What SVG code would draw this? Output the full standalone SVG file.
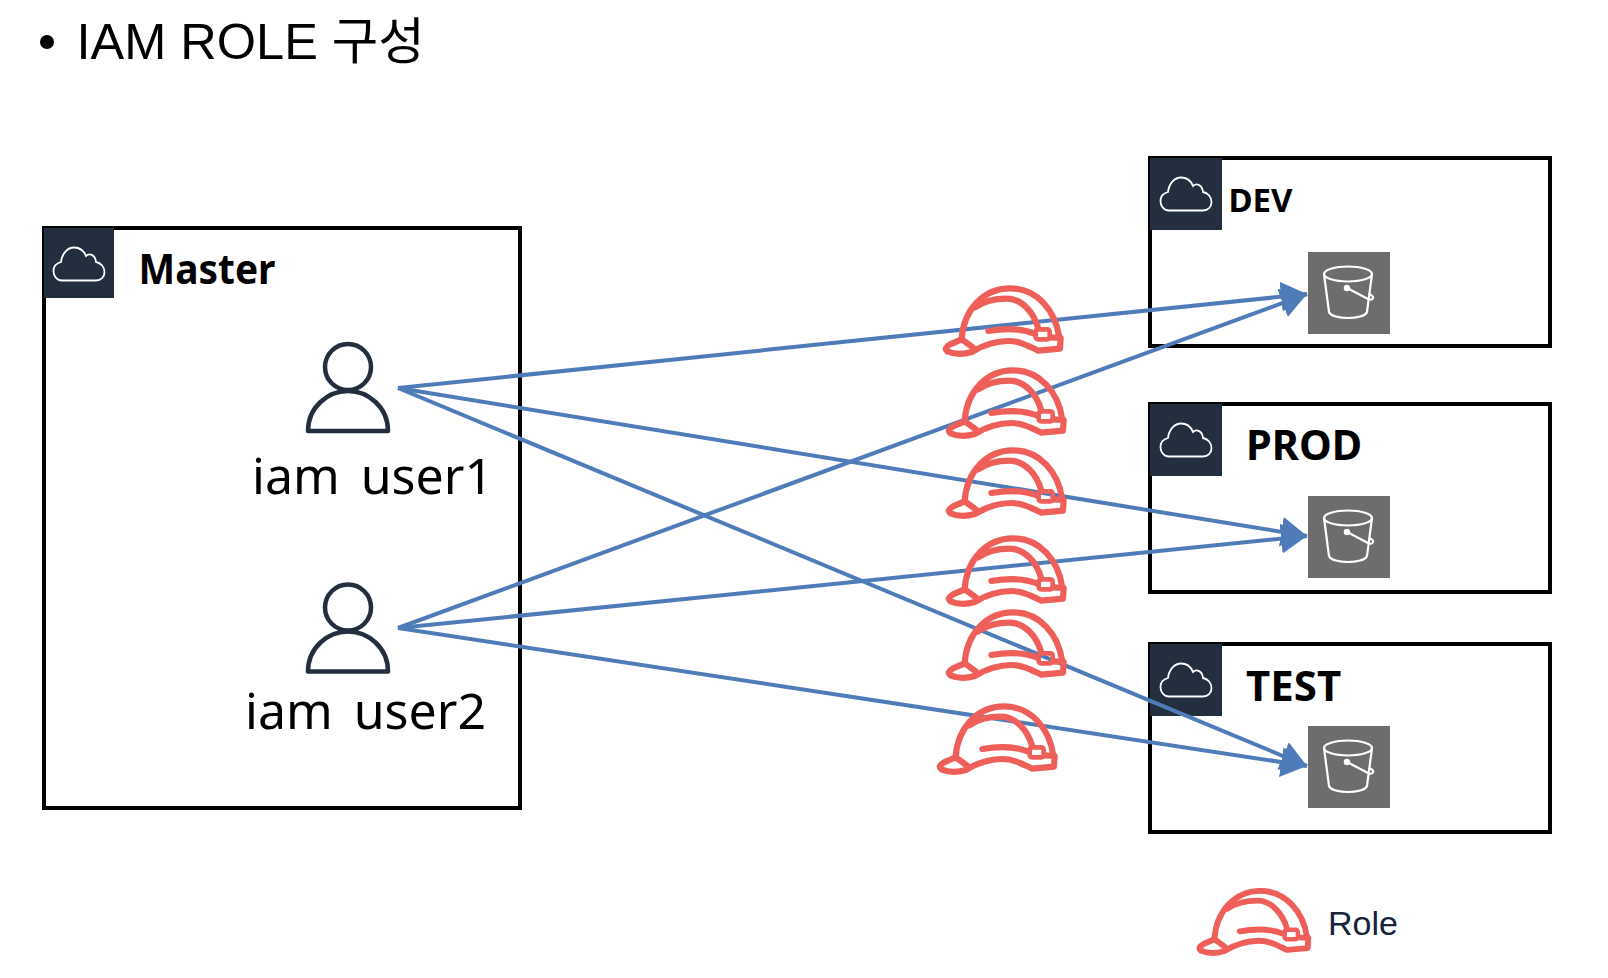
<svg xmlns="http://www.w3.org/2000/svg" width="1608" height="978" viewBox="0 0 1608 978">
<style>
.box{fill:none;stroke:#000;stroke-width:4}
.sq{fill:#232F3E}
.cloud{fill:none;stroke:#fff;stroke-width:1.8}
.s3bg{fill:#6D6D6D}
.s3{fill:none;stroke:#fff;stroke-width:2.2}
.user{fill:none;stroke:#232F3E;stroke-width:4.5;stroke-linejoin:round}
.hatline{fill:none;stroke:#EF5F5A;stroke-width:18.5;stroke-linejoin:round;stroke-linecap:round}
.lbl{font-family:"Noto Sans","Noto Sans CJK KR",sans-serif;fill:#000}
.b{font-weight:700}
.conn{fill:none;stroke:#4F7CB8;stroke-width:4}
</style>
<defs>
<marker id="arr" markerUnits="userSpaceOnUse" markerWidth="26" markerHeight="30" refX="26" refY="15" orient="auto"><path d="M0,0 L26,15 L0,30 Z" fill="#4F7CB8"/></marker>
<g id="hat" class="hatline">
<path d="M185,238 C190,150 250,85 330,85 C410,85 466,150 478,232"/>
<path d="M225,142 C250,125 285,116 320,116 C365,116 400,155 415,205"/>
<path d="M185,238 L150,253 Q130,265 142,274 Q175,288 215,276 C250,255 285,243 325,243 C360,243 385,258 415,272 L480,266 L482,234 L452,232"/>
<path d="M185,238 L218,262"/>
<path d="M265,213 C310,205 360,203 405,222"/>
<rect x="407" y="208" width="42" height="30" rx="7" stroke-width="14"/>
</g>
<g id="cloudic" class="cloud"><path d="M-17,16.5 C-23,16.5 -25.5,11 -25.5,7 C-25.5,2 -22,-1 -18,-2 C-17,-11 -11,-16.5 -5,-16.5 C1,-16.5 5,-13 7,-8 C10,-11 16,-10 17,-2 C22,-1 25.5,3 25.5,8 C25.5,13 22,16.5 17,16.5 Z"/></g>
<g id="bucket" class="s3"><ellipse cx="0" cy="-19" rx="24" ry="7.5"/><path d="M-24,-19 L-19,19 C-16,27 16,27 19,19 L24,-19"/><path d="M-1,-5 L20,6 C25,8 27,4 23,2 L21,1"/><circle cx="-1" cy="-5" r="2.2" fill="#fff"/></g>
<g id="person" class="user"><circle cx="0" cy="0" r="23"/><path d="M-40,64 C-40,40 -20,24 0,24 C20,24 40,40 40,64 Z"/></g>
</defs>

<g id="title"><circle cx="47" cy="42" r="7" fill="#000"/><text x="76.5" y="59" font-size="50.5" font-family="'Liberation Sans','Noto Sans CJK KR',sans-serif">IAM ROLE 구성</text></g>

<g id="master"><rect class="box" x="44" y="228" width="476" height="580"/><rect class="sq" x="44" y="228" width="70" height="70"/><use href="#cloudic" x="79" y="264"/><text class="lbl b" x="138.5" y="284" font-size="41" textLength="137" lengthAdjust="spacingAndGlyphs">Master</text></g>
<g id="user1"><use href="#person" x="348" y="367"/><text class="lbl" x="252" y="494" font-size="50" word-spacing="8">iam user1</text></g>
<g id="user2"><use href="#person" x="348" y="607.500"/><text class="lbl" x="245" y="729" font-size="50" word-spacing="8">iam user2</text></g>

<g id="dev"><rect class="box" x="1150" y="158" width="400" height="188"/><rect class="sq" x="1150" y="158" width="72" height="72"/><use href="#cloudic" x="1186" y="194"/><text class="lbl b" x="1228.500" y="212" font-size="33" textLength="64" lengthAdjust="spacingAndGlyphs">DEV</text><rect class="s3bg" x="1308" y="252" width="82" height="82"/><use href="#bucket" x="1348" y="293"/></g>
<g id="prod"><rect class="box" x="1150" y="404" width="400" height="188"/><rect class="sq" x="1150" y="404" width="72" height="72"/><use href="#cloudic" x="1186" y="440"/><text class="lbl b" x="1246" y="460" font-size="42" textLength="116" lengthAdjust="spacingAndGlyphs">PROD</text><rect class="s3bg" x="1308" y="496" width="82" height="82"/><use href="#bucket" x="1348" y="537"/></g>
<g id="test"><rect class="box" x="1150" y="644" width="400" height="188"/><rect class="sq" x="1150" y="644" width="72" height="72"/><use href="#cloudic" x="1186" y="680"/><text class="lbl b" x="1246" y="701" font-size="42">TEST</text><rect class="s3bg" x="1308" y="726" width="82" height="82"/><use href="#bucket" x="1348" y="767"/></g>

<g id="connectors">
<path class="conn" marker-end="url(#arr)" d="M398,388 L1307,294"/>
<path class="conn" marker-end="url(#arr)" d="M398,388 L1307,536"/>
<path class="conn" marker-end="url(#arr)" d="M398,388 L1307,766"/>
<path class="conn" marker-end="url(#arr)" d="M398,628 L1307,294"/>
<path class="conn" marker-end="url(#arr)" d="M398,628 L1307,536"/>
<path class="conn" marker-end="url(#arr)" d="M398,628 L1307,766"/>
</g>

<g id="role1"><use href="#hat" transform="translate(900,260) scale(.3333)"/></g>
<g id="role2"><use href="#hat" transform="translate(903,342) scale(.3333)"/></g>
<g id="role3"><use href="#hat" transform="translate(903,422) scale(.3333)"/></g>
<g id="role4"><use href="#hat" transform="translate(903,510) scale(.3333)"/></g>
<g id="role5"><use href="#hat" transform="translate(903,584) scale(.3333)"/></g>
<g id="role6"><use href="#hat" transform="translate(894,678) scale(.3333)"/></g>
<g id="legend"><use href="#hat" transform="translate(1156,864) scale(.316)"/><text x="1328" y="935" font-size="34" font-family="'Liberation Sans',sans-serif" fill="#16233A">Role</text></g>
</svg>
